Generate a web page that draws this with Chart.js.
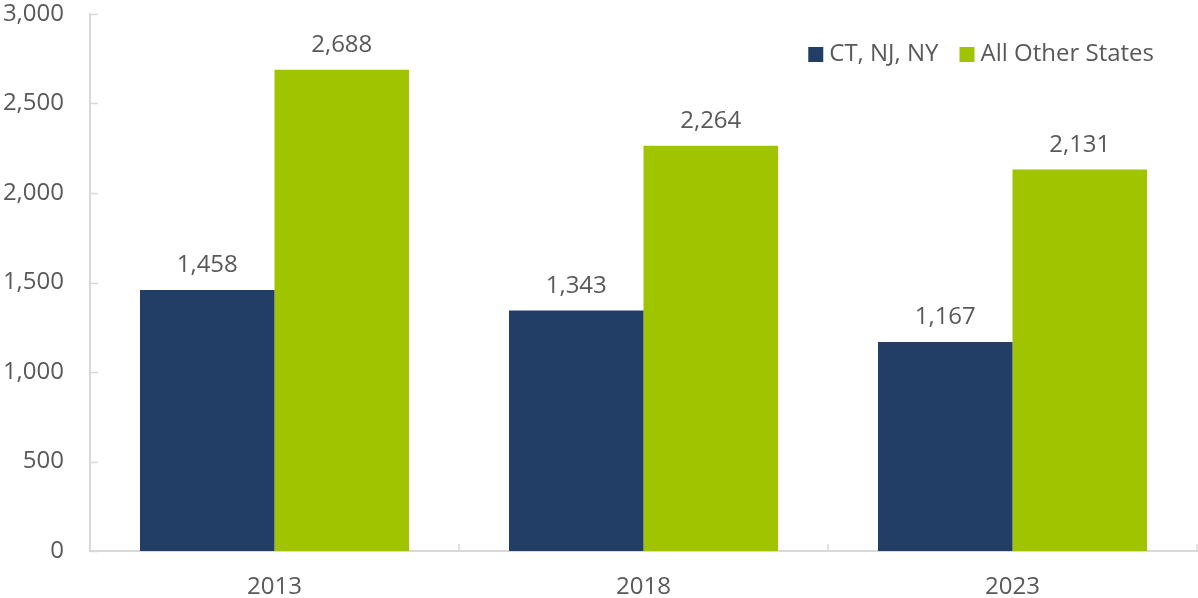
<!DOCTYPE html>
<html>
<head>
<meta charset="utf-8">
<script src="https://cdn.jsdelivr.net/npm/chart.js@4.4.1/dist/chart.umd.min.js"></script>
<style>
  html, body { margin: 0; padding: 0; background: #fff; }
  #wrap { width: 1198px; height: 598px; position: relative; }
</style>
</head>
<body>
<div id="wrap"><canvas id="c"></canvas></div>
<script>
/* 3州 vs その他の州: 年別の棒グラフ(値ラベル・右上凡例) */

const YEARS = ["2013", "2018", "2023"];
const TRI_STATE = [1458, 1343, 1167];
const OTHER_STATES = [2688, 2264, 2131];
const SERIES_NAMES = ["CT, NJ, NY", "All Other States"];
const Y_TICKS = [0, 500, 1000, 1500, 2000, 2500, 3000];

const NAVY = "#233e66";
const GREEN = "#a1c400";
const INK = "#595959";
const AXIS = "#d9d9d9";
const FONT = "'Open Sans', 'Noto Sans', sans-serif";
const FONT_SIZE = 24;

// 軸線から内側に伸びる短い目盛り
const tickMarks = {
  id: "tickMarks",
  afterDraw(chart) {
    const { ctx, chartArea: a, scales } = chart;
    ctx.save();
    ctx.strokeStyle = AXIS;
    ctx.lineWidth = 1.5;
    ctx.beginPath();
    Y_TICKS.forEach((v) => {
      const y = Math.round(scales.y.getPixelForValue(v)) + 0.5;
      ctx.moveTo(a.left, y);
      ctx.lineTo(a.left + 8, y);
    });
    for (let i = 0; i <= YEARS.length; i++) {
      const x = Math.round(scales.x.getPixelForValue(i - 0.5));
      ctx.moveTo(x, a.bottom);
      ctx.lineTo(x, a.bottom - 7);
    }
    ctx.stroke();
    ctx.restore();
  },
};

// 棒の上の値ラベル
const valueLabels = {
  id: "valueLabels",
  afterDatasetsDraw(chart) {
    const ctx = chart.ctx;
    ctx.save();
    ctx.font = `${FONT_SIZE}px ${FONT}`;
    ctx.fillStyle = INK;
    ctx.textAlign = "center";
    ctx.textBaseline = "alphabetic";
    chart.data.datasets.forEach((ds, di) => {
      chart.getDatasetMeta(di).data.forEach((bar, i) => {
        ctx.fillText(ds.data[i].toLocaleString("en-US"), bar.x, bar.y - 18);
      });
    });
    ctx.restore();
  },
};

// 右上の凡例(四角マーカー)
const legendBox = {
  id: "legendBox",
  afterDraw(chart) {
    const ctx = chart.ctx;
    const a = chart.chartArea;
    ctx.save();
    ctx.font = `${FONT_SIZE}px ${FONT}`;
    ctx.textBaseline = "middle";
    const box = 15, gap = 6, itemGap = 21;
    const items = chart.data.datasets.map((ds) => ({ label: ds.label, color: ds.backgroundColor, w: ctx.measureText(ds.label).width }));
    const total = items.reduce((s, it) => s + box + gap + it.w, 0) + itemGap * (items.length - 1);
    let x = a.right - 43 - total;
    const cy = 54.5;
    items.forEach((it) => {
      ctx.fillStyle = it.color;
      ctx.fillRect(x, cy - box / 2, box, box);
      ctx.fillStyle = INK;
      ctx.fillText(it.label, x + box + gap, cy);
      x += box + gap + it.w + itemGap;
    });
    ctx.restore();
  },
};

new Chart(document.getElementById("c"), {
  type: "bar",
  data: {
    labels: YEARS,
    datasets: [
      { label: SERIES_NAMES[0], data: TRI_STATE, backgroundColor: NAVY },
      { label: SERIES_NAMES[1], data: OTHER_STATES, backgroundColor: GREEN },
    ],
  },
  options: {
    responsive: true,
    maintainAspectRatio: false,
    animation: false,
    layout: { padding: { top: 14, right: 1, left: 0, bottom: 0 } },
    datasets: { bar: { categoryPercentage: 0.729, barPercentage: 1, borderWidth: 0 } },
    plugins: { legend: { display: false }, tooltip: { enabled: false } },
    scales: {
      x: {
        grid: { display: false, drawTicks: false },
        border: { display: true, color: AXIS, width: 2 },
        ticks: { color: INK, font: { family: FONT, size: FONT_SIZE }, padding: 22 },
        afterFit: (s) => { s.height = 47; s.paddingLeft = 0; s.paddingRight = 0; },
      },
      y: {
        min: 0,
        max: 3000,
        grid: { display: false, drawTicks: false },
        border: { display: true, color: AXIS, width: 2 },
        ticks: {
          stepSize: 500,
          color: INK,
          font: { family: FONT, size: FONT_SIZE },
          padding: 26,
          callback: (v) => v.toLocaleString("en-US"),
        },
        afterFit: (s) => { s.width = 90; s.paddingTop = 0; s.paddingBottom = 0; },
      },
    },
  },
  plugins: [tickMarks, valueLabels, legendBox],
});
</script>
</body>
</html>
